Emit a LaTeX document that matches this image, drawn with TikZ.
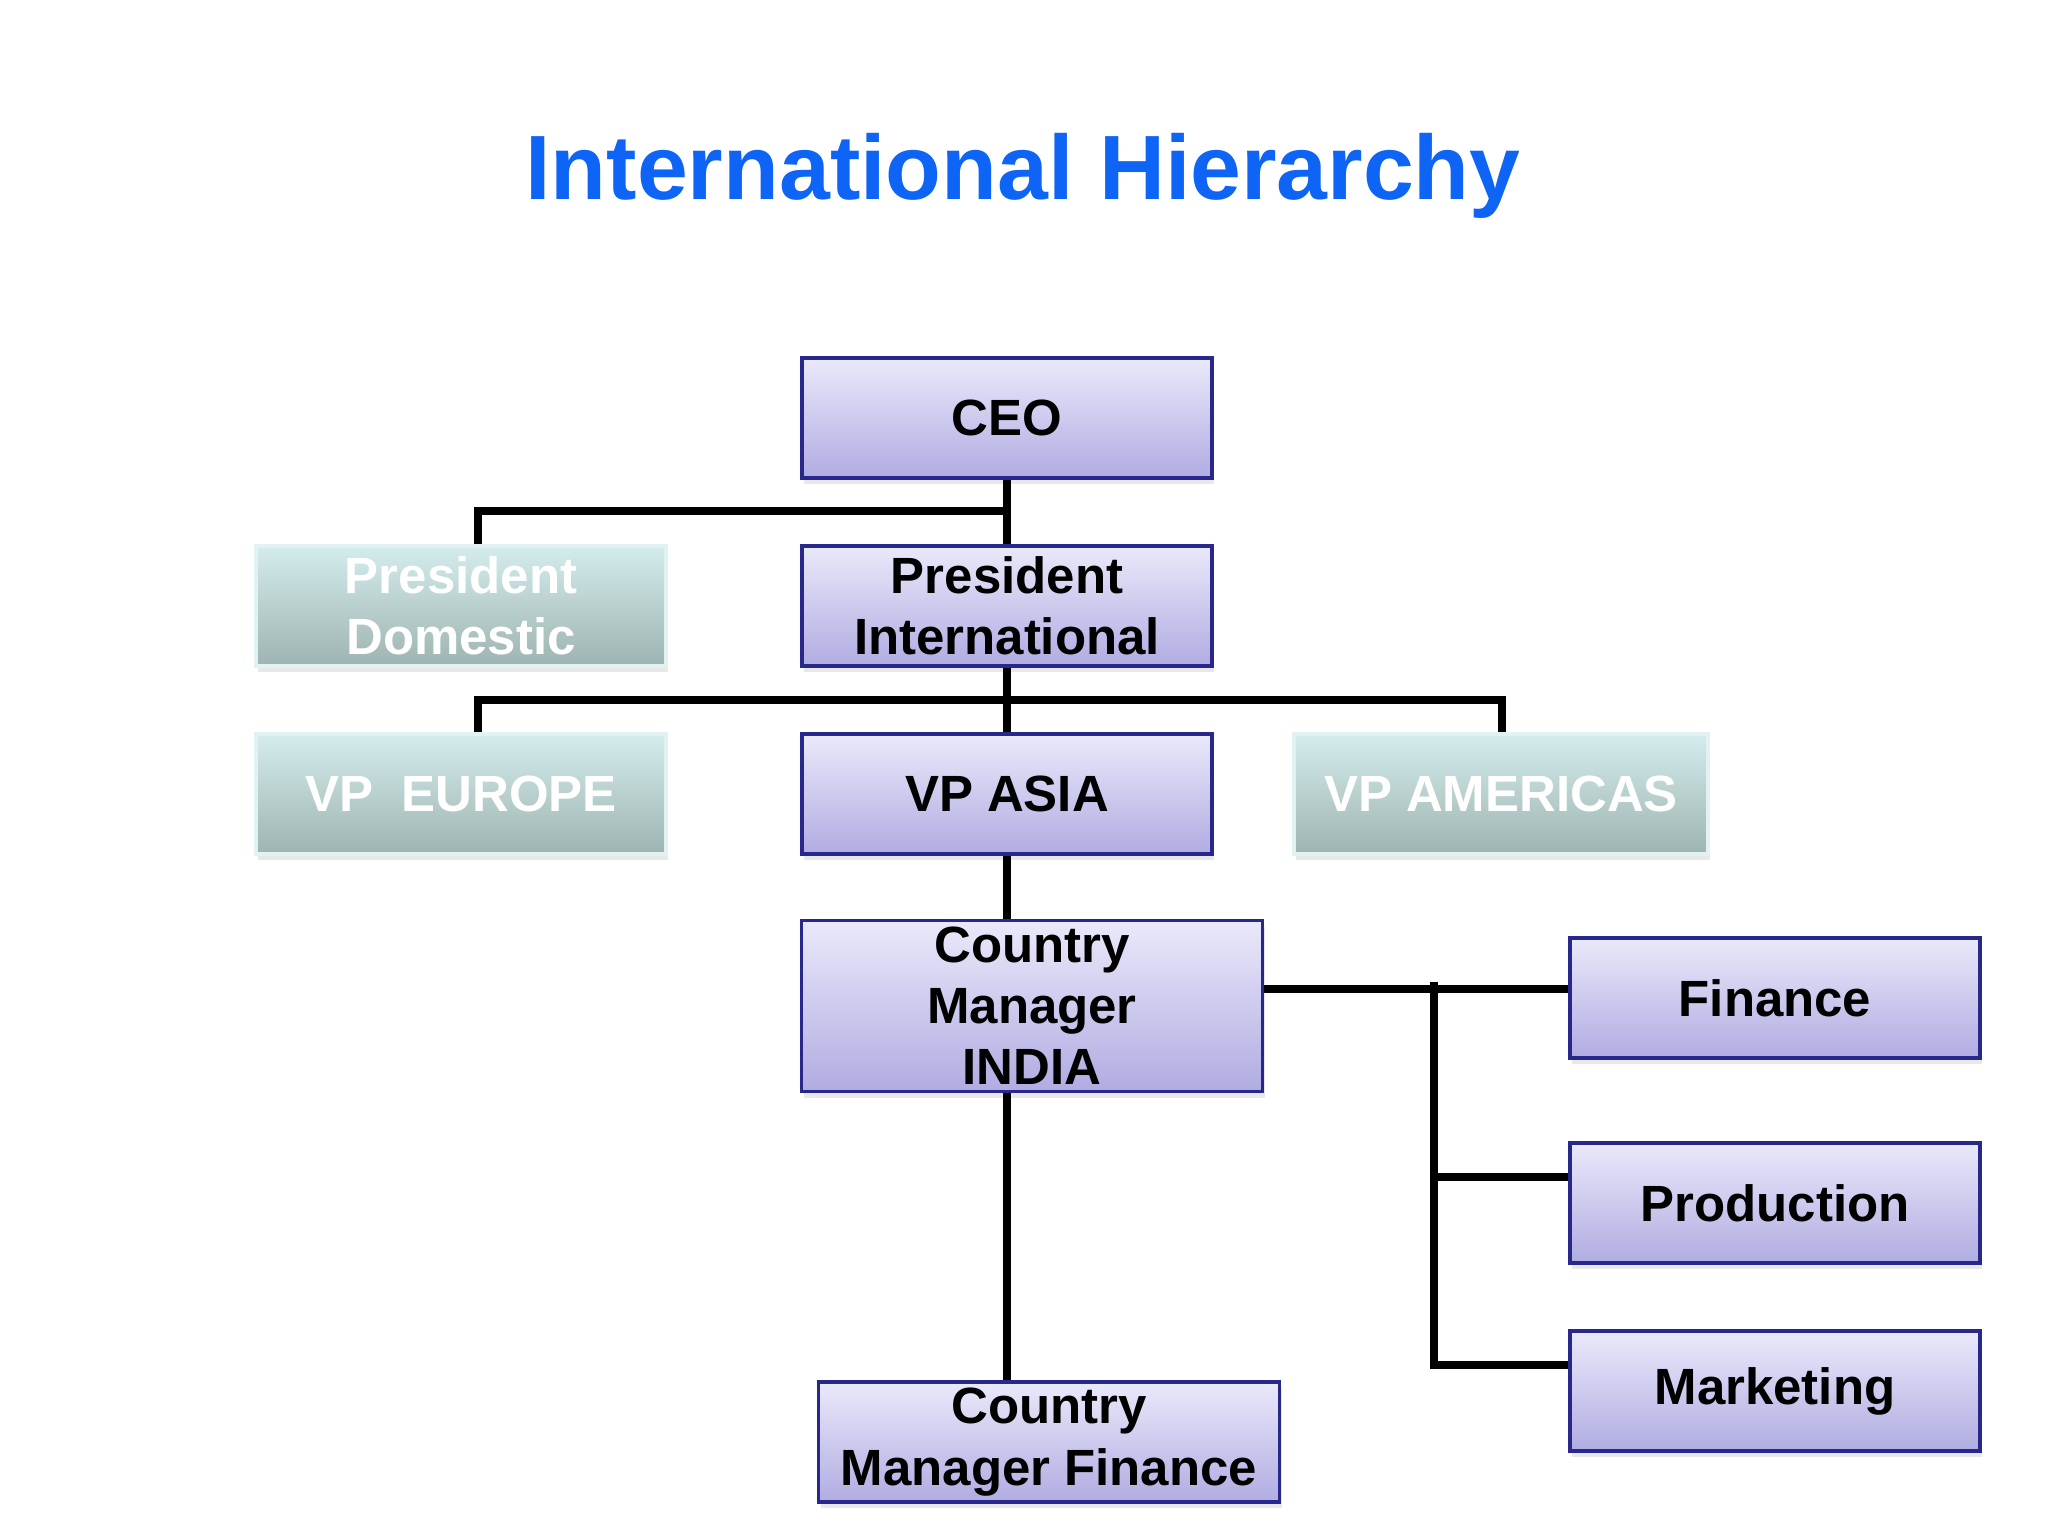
\documentclass[tikz,border=0pt]{standalone}
\usepackage{fontspec}
\setmainfont{Liberation Sans}
\usetikzlibrary{shadows}
\definecolor{TitleBlue}{RGB}{14,100,245}
\definecolor{BoxTop}{RGB}{234,233,250}
\definecolor{BoxBottom}{RGB}{176,172,226}
\definecolor{BoxLine}{RGB}{40,40,140}
\definecolor{FadeTop}{RGB}{212,236,236}
\definecolor{FadeBottom}{RGB}{158,180,178}
\definecolor{FadeLine}{RGB}{226,242,242}
\tikzset{
  unit/.style={rectangle, inner sep=0pt, align=center, minimum width=41mm, minimum height=12mm,
    font=\fontsize{14.5}{17.4}\selectfont\bfseries,
    drop shadow={shadow xshift=0.2mm, shadow yshift=-0.6mm, opacity=0.18}},
  active/.style={unit, draw=BoxLine, line width=0.9pt, top color=BoxTop, bottom color=BoxBottom, text=black},
  faded/.style={unit, draw=FadeLine, line width=0.9pt, top color=FadeTop, bottom color=FadeBottom, text=white},
  conn/.style={draw=black, line width=2.3pt, line join=miter}
}

\begin{document}
\begin{tikzpicture}[x=0.1mm, y=-0.1mm]
\useasboundingbox (0,0) rectangle (2048,1536);
%Title
\node[anchor=base, text=TitleBlue, font=\fontsize{26}{30}\selectfont\bfseries] (title) at (1023,199) {International Hierarchy};
%Top
\node[active] (ceo) at (1007,418) {CEO};
%Presidents
\node[faded] (pdom) at (461,606) {President\\Domestic};
\node[active] (pint) at (1007,606) {President\\International};
%VP row
\node[faded] (veur) at (461,794) {VP~ EUROPE};
\node[active] (vasia) at (1007,794) {VP ASIA};
\node[faded, minimum width=41.4mm] (vam) at (1501,794) {VP AMERICAS};
%Country level
\node[active, minimum width=46.1mm, minimum height=17.1mm] (cmindia) at (1032,1006) {Country\\Manager\\INDIA};
\node[active, minimum width=46.1mm] (cmfin) at (1049,1442) {Country\\Manager Finance};
%Functions
\node[active] (fin) at (1775,998) {Finance};
\node[active] (prod) at (1775,1203) {Production};
\node[active] (mkt) at (1775,1391) {Marketing};

%Connectors
\coordinate (topbus) at (478,511);
\coordinate (vpbusL) at (478,700);
\coordinate (vpbusR) at (1502,700);
\coordinate (fbusT) at (1434,982);
\coordinate (fbusF) at (1434,989);
\coordinate (fbusP) at (1434,1177);
\coordinate (fbusM) at (1434,1365);
\draw[conn] (ceo.south) -- (pint.north);
\draw[conn] (ceo.south |- topbus) -- (topbus) -- (topbus |- pdom.north);
\draw[conn] (pint.south) -- (vasia.north);
\draw[conn] (vpbusL |- veur.north) -- (vpbusL) -- (vpbusR) -- (vpbusR |- vam.north);
\draw[conn] (vasia.south) -- (vasia.south |- cmindia.north);
\draw[conn] (vasia.south |- cmindia.south) -- (vasia.south |- cmfin.north);
\draw[conn] (cmindia.east |- fbusF) -- (fin.west |- fbusF);
\draw[conn] (fbusT) -- (fbusM) -- (mkt.west |- fbusM);
\draw[conn] (fbusP) -- (prod.west |- fbusP);
\end{tikzpicture}
\end{document}
